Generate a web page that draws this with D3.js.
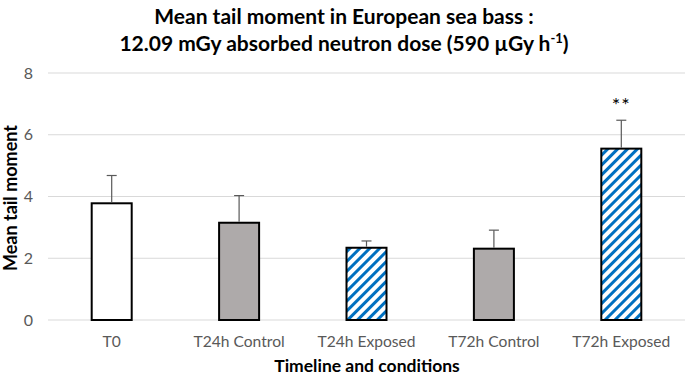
<!DOCTYPE html>
<html>
<head>
<meta charset="utf-8">
<script src="https://cdn.jsdelivr.net/npm/d3@7"></script>
<style>
  body { margin: 0; background: #fff; }
  text { font-family: Lato, "Open Sans", sans-serif; }
</style>
</head>
<body>
<svg id="chart" width="685" height="376"></svg>
<script>
// data
const categories = ['T0', 'T24h Control', 'T24h Exposed', 'T72h Control', 'T72h Exposed'];
const means = [3.78, 3.15, 2.34, 2.31, 5.55];
const errors = [0.9, 0.88, 0.22, 0.6, 0.92];
const kinds = ['open', 'control', 'exposed', 'control', 'exposed'];
const marks = ['', '', '', '', '**'];
const yTicks = [0, 2, 4, 6, 8];

const svg = d3.select('#chart');
const margin = {top: 73, right: 0, bottom: 56, left: 48};
const width = 685 - margin.left - margin.right;
const height = 376 - margin.top - margin.bottom;

const defs = svg.append('defs');
const pat = defs.append('pattern')
  .attr('id', 'stripes')
  .attr('patternUnits', 'userSpaceOnUse')
  .attr('width', 7).attr('height', 7)
  .attr('patternTransform', 'rotate(45)');
pat.append('rect').attr('width', 7).attr('height', 7).attr('fill', '#fff');
pat.append('rect').attr('width', 3).attr('height', 7).attr('fill', '#0070c0');

const fills = {open: '#ffffff', control: '#aeaaaa', exposed: 'url(#stripes)'};

const x = d3.scaleBand().domain(categories).range([0, width]).paddingInner(0.686).paddingOuter(0.343);
const y = d3.scaleLinear().domain([0, 8]).range([height, 0]);

const g = svg.append('g').attr('transform', `translate(${margin.left},${margin.top})`);

// gridlines
g.append('g')
  .selectAll('line')
  .data(yTicks)
  .join('line')
  .attr('x1', 0).attr('x2', width)
  .attr('y1', d => y(d)).attr('y2', d => y(d))
  .attr('stroke', '#d9d9d9').attr('stroke-width', 1);

// y tick labels
g.append('g')
  .selectAll('text')
  .data(yTicks)
  .join('text')
  .attr('x', -15).attr('y', d => y(d))
  .attr('dy', '0.35em')
  .attr('text-anchor', 'end')
  .attr('font-size', 16)
  .attr('fill', '#595959')
  .text(d => d);

const rows = categories.map((c, i) => ({c, m: means[i], e: errors[i], k: kinds[i], s: marks[i]}));

// bars
g.append('g')
  .selectAll('rect')
  .data(rows)
  .join('rect')
  .attr('x', d => x(d.c))
  .attr('y', d => y(d.m))
  .attr('width', x.bandwidth())
  .attr('height', d => y(0) - y(d.m))
  .attr('fill', d => fills[d.k])
  .attr('stroke', '#000')
  .attr('stroke-width', 2);

// error bars (upper only)
const eb = g.append('g').attr('stroke', '#595959').attr('stroke-width', 1.2);
rows.forEach(d => {
  const cx = x(d.c) + x.bandwidth() / 2;
  eb.append('line').attr('x1', cx).attr('x2', cx).attr('y1', y(d.m) - 1).attr('y2', y(d.m + d.e));
  eb.append('line').attr('x1', cx - 5).attr('x2', cx + 5).attr('y1', y(d.m + d.e)).attr('y2', y(d.m + d.e));
});

// significance marks
g.append('g')
  .selectAll('text')
  .data(rows.filter(d => d.s))
  .join('text')
  .attr('x', d => x(d.c) + x.bandwidth() / 2)
  .attr('y', d => y(d.m + d.e) - 8)
  .attr('text-anchor', 'middle')
  .attr('font-size', 20)
  .attr('letter-spacing', 1)
  .attr('fill', '#000')
  .text(d => d.s);

// x labels
g.append('g')
  .selectAll('text')
  .data(categories)
  .join('text')
  .attr('x', d => x(d) + x.bandwidth() / 2)
  .attr('y', height + 27)
  .attr('text-anchor', 'middle')
  .attr('font-size', 15.6)
  .attr('fill', '#595959')
  .text(d => d);

// axis titles
svg.append('text')
  .attr('x', 367).attr('y', 372)
  .attr('text-anchor', 'middle')
  .attr('font-size', 17.5).attr('font-weight', 'bold')
  .text('Timeline and conditions');

svg.append('text')
  .attr('transform', 'translate(17,198) rotate(-90)')
  .attr('text-anchor', 'middle')
  .attr('font-size', 18).attr('font-weight', 'bold')
  .text('Mean tail moment');

// title
const title = svg.append('text').attr('text-anchor', 'middle').attr('font-size', 21).attr('font-weight', 'bold');
title.append('tspan').attr('x', 344).attr('y', 24).text('Mean tail moment in European sea bass :');
const t2 = title.append('tspan').attr('x', 344).attr('y', 51);
t2.text('12.09 mGy absorbed neutron dose (590 µGy h');
title.append('tspan').attr('dy', -8).attr('font-size', 13).text('-1');
title.append('tspan').attr('dy', 8).text(')');
</script>
</body>
</html>
